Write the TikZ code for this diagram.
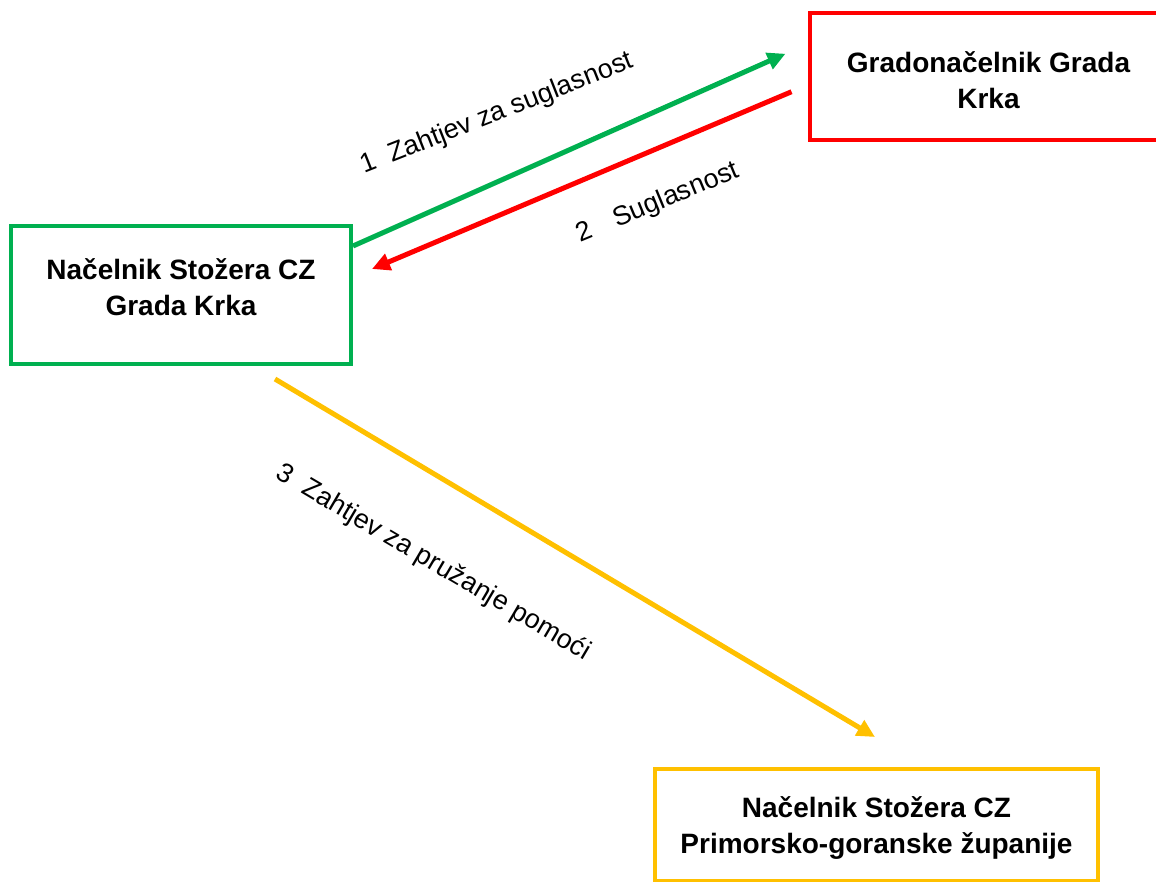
\documentclass[tikz,border=0pt]{standalone}
\usepackage{fontspec}
\setmainfont{Liberation Sans}
\usetikzlibrary{arrows.meta}
\definecolor{czgreen}{HTML}{00B050}
\definecolor{czred}{HTML}{FF0000}
\definecolor{czyellow}{HTML}{FFC000}
\begin{document}
\begin{tikzpicture}[x=1pt, y=-1pt,
  box/.style = {shape=rectangle, line width=4pt, align=center,
    text=black, inner sep=0pt, font=\fontsize{28}{36}\selectfont\bfseries},
  link/.style = {line width=5pt, -{Triangle[length=18pt, width=17pt]}},
  linktext/.style = {inner sep=0pt, font=\fontsize{27}{32}\selectfont}
  ]
  \useasboundingbox (0,0) rectangle (1156,882);
  \clip (0,0) rectangle (1156,882);
  \node[box, draw=czgreen, minimum width=340pt, minimum height=138pt, text depth=15pt]
    (stozer) at (181,295) {Načelnik Stožera CZ\\Grada Krka};
  \node[box, draw=czred, minimum width=358pt, minimum height=127.5pt, text height=64.5pt]
    (gradonacelnik) at (988.5,76.75) {Gradonačelnik Grada\\Krka};
  \node[box, draw=czyellow, minimum width=443pt, minimum height=112pt, text height=63pt]
    (zupanija) at (876.5,824.5) {Načelnik Stožera CZ\\Primorsko-goranske županije};
  % connectors
  \draw[link, czgreen] ([yshift=49pt]stozer.east) -- ([xshift=-22pt, yshift=23pt]gradonacelnik.west);
  \draw[link, czred] ([xshift=-16pt, yshift=-15pt]gradonacelnik.west) -- ([xshift=19pt, yshift=26pt]stozer.east);
  \draw[link, czyellow] ([xshift=94pt, yshift=-13pt]stozer.south) -- ([xshift=-1.5pt, yshift=29.5pt]zupanija.north);
  \node[linktext, rotate=21.5] (zahtjev) at (497,114) {1\ \ Zahtjev za suglasnost};
  \node[linktext, rotate=22.5] (suglasnost) at (658,203) {2\hspace{0.9em}Suglasnost};
  \node[linktext, rotate=-30.5] (pomoc) at (433,563) {3\ \ Zahtjev za pružanje pomoći};
\end{tikzpicture}
\end{document}
